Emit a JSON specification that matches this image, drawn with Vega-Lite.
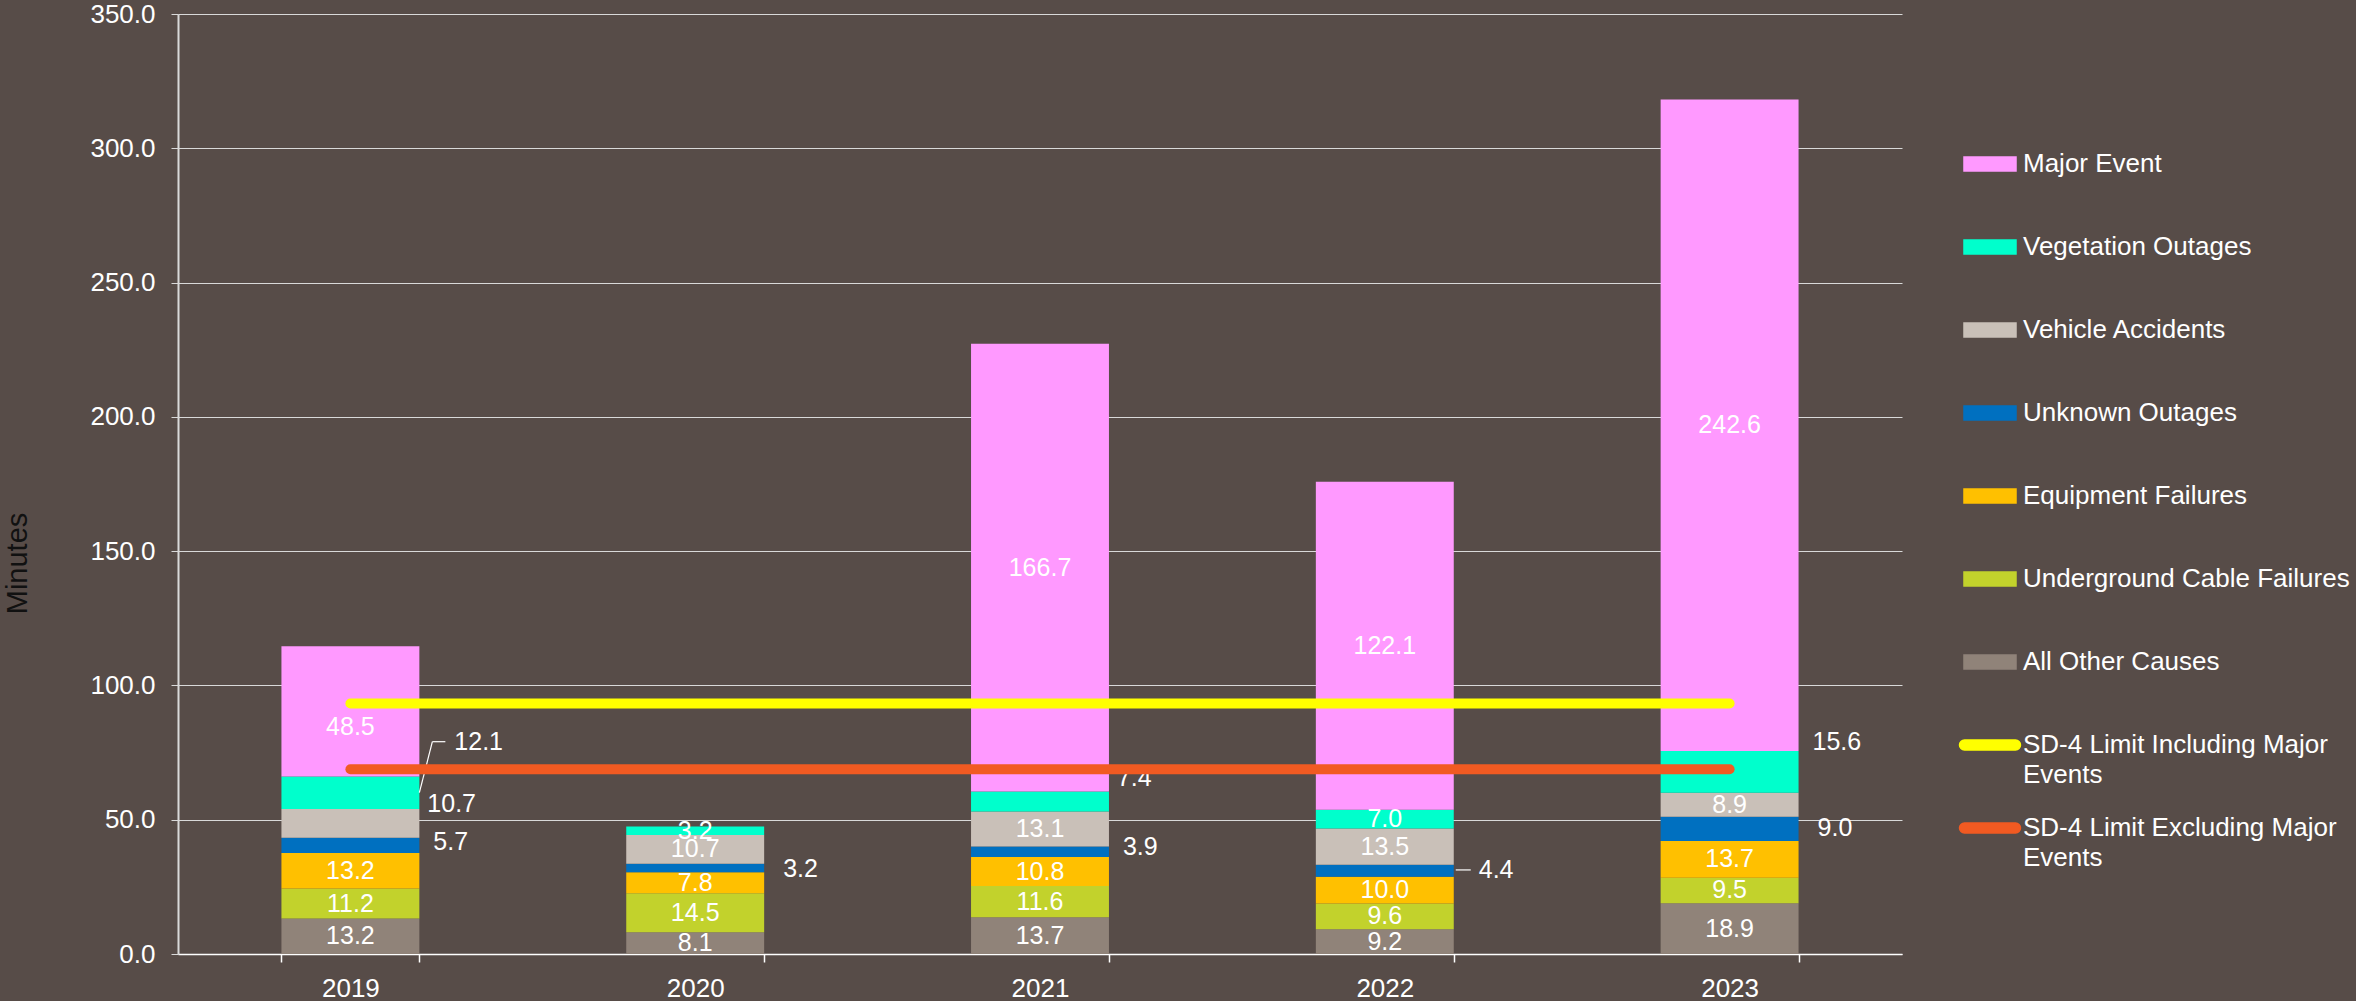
{
  "$schema": "https://vega.github.io/schema/vega-lite/v6.json",
  "width": 1724,
  "height": 940,
  "autosize": {"type": "none"},
  "padding": {"left": 178, "top": 14, "right": 454, "bottom": 47},
  "background": "#574c48",
  "config": {"view": {"stroke": null}, "font": "Liberation Sans"},
  "datasets": {
    "causes": [
      {"year": "2019", "category": "All Other Causes", "minutes": 13.2},
      {"year": "2019", "category": "Underground Cable Failures", "minutes": 11.2},
      {"year": "2019", "category": "Equipment Failures", "minutes": 13.2},
      {"year": "2019", "category": "Unknown Outages", "minutes": 5.7},
      {"year": "2019", "category": "Vehicle Accidents", "minutes": 10.7},
      {"year": "2019", "category": "Vegetation Outages", "minutes": 12.1},
      {"year": "2019", "category": "Major Event", "minutes": 48.5},
      {"year": "2020", "category": "All Other Causes", "minutes": 8.1},
      {"year": "2020", "category": "Underground Cable Failures", "minutes": 14.5},
      {"year": "2020", "category": "Equipment Failures", "minutes": 7.8},
      {"year": "2020", "category": "Unknown Outages", "minutes": 3.2},
      {"year": "2020", "category": "Vehicle Accidents", "minutes": 10.7},
      {"year": "2020", "category": "Vegetation Outages", "minutes": 3.2},
      {"year": "2021", "category": "All Other Causes", "minutes": 13.7},
      {"year": "2021", "category": "Underground Cable Failures", "minutes": 11.6},
      {"year": "2021", "category": "Equipment Failures", "minutes": 10.8},
      {"year": "2021", "category": "Unknown Outages", "minutes": 3.9},
      {"year": "2021", "category": "Vehicle Accidents", "minutes": 13.1},
      {"year": "2021", "category": "Vegetation Outages", "minutes": 7.4},
      {"year": "2021", "category": "Major Event", "minutes": 166.7},
      {"year": "2022", "category": "All Other Causes", "minutes": 9.2},
      {"year": "2022", "category": "Underground Cable Failures", "minutes": 9.6},
      {"year": "2022", "category": "Equipment Failures", "minutes": 10.0},
      {"year": "2022", "category": "Unknown Outages", "minutes": 4.4},
      {"year": "2022", "category": "Vehicle Accidents", "minutes": 13.5},
      {"year": "2022", "category": "Vegetation Outages", "minutes": 7.0},
      {"year": "2022", "category": "Major Event", "minutes": 122.1},
      {"year": "2023", "category": "All Other Causes", "minutes": 18.9},
      {"year": "2023", "category": "Underground Cable Failures", "minutes": 9.5},
      {"year": "2023", "category": "Equipment Failures", "minutes": 13.7},
      {"year": "2023", "category": "Unknown Outages", "minutes": 9.0},
      {"year": "2023", "category": "Vehicle Accidents", "minutes": 8.9},
      {"year": "2023", "category": "Vegetation Outages", "minutes": 15.6},
      {"year": "2023", "category": "Major Event", "minutes": 242.6}
    ],
    "limits": [
      {"year": "2019", "category": "SD-4 Limit Including Major Events", "minutes": 93.3},
      {"year": "2020", "category": "SD-4 Limit Including Major Events", "minutes": 93.3},
      {"year": "2021", "category": "SD-4 Limit Including Major Events", "minutes": 93.3},
      {"year": "2022", "category": "SD-4 Limit Including Major Events", "minutes": 93.3},
      {"year": "2023", "category": "SD-4 Limit Including Major Events", "minutes": 93.3},
      {"year": "2019", "category": "SD-4 Limit Excluding Major Events", "minutes": 68.8},
      {"year": "2020", "category": "SD-4 Limit Excluding Major Events", "minutes": 68.8},
      {"year": "2021", "category": "SD-4 Limit Excluding Major Events", "minutes": 68.8},
      {"year": "2022", "category": "SD-4 Limit Excluding Major Events", "minutes": 68.8},
      {"year": "2023", "category": "SD-4 Limit Excluding Major Events", "minutes": 68.8}
    ]
  },
  "layer": [
    {
      "data": {"name": "causes"},
      "transform": [
        {"calculate": "indexof(['All Other Causes','Underground Cable Failures','Equipment Failures','Unknown Outages','Vehicle Accidents','Vegetation Outages','Major Event'], datum.category)", "as": "ord"},
        {"stack": "minutes", "groupby": ["year"], "sort": [{"field": "ord", "order": "ascending"}], "as": ["y0", "y1"]},
        {"calculate": "(datum.y0 + datum.y1) / 2", "as": "mid"},
        {"calculate": "datum.year + '|' + datum.category", "as": "key"},
        {"calculate": "indexof(['2019|Vegetation Outages','2019|Vehicle Accidents','2019|Unknown Outages','2020|Unknown Outages','2021|Unknown Outages','2021|Vegetation Outages','2022|Unknown Outages','2023|Unknown Outages','2023|Vegetation Outages','2019|Major Event'], datum.key)", "as": "ki"},
        {"calculate": "datum.mid + (datum.ki >= 0 ? [19, 7.3, 1.2, -0.4, 1.9, 8.6, 0.3, 0.4, 11.2, -6][datum.ki] : 0)", "as": "ly"}
      ],
      "layer": [
        {
          "mark": {"type": "bar"},
          "encoding": {
            "x": {
              "field": "year", "type": "nominal",
              "scale": {"paddingInner": 0.6, "paddingOuter": 0.3},
              "axis": {"title": null, "labelAngle": 0, "labelFontSize": 26, "labelColor": "#ffffff", "labelPadding": 13, "tickBand": "extent", "tickSize": 8, "tickColor": "#ffffff", "tickWidth": 1.5, "domainColor": "#ffffff", "domainWidth": 1.5, "grid": false}
            },
            "y": {
              "field": "y1", "type": "quantitative",
              "scale": {"domain": [0, 350], "nice": false, "zero": true},
              "axis": {"title": "Minutes", "values": [0, 50, 100, 150, 200, 250, 300, 350], "format": ".1f", "labelFontSize": 26, "labelColor": "#ffffff", "labelPadding": 16, "tickSize": 7, "tickColor": "#d9d9d9", "tickWidth": 1, "domainColor": "#d9d9d9", "domainWidth": 2, "grid": true, "gridColor": "#d9d9d9", "gridWidth": 1, "titleFont": "Liberation Sans", "titleFontSize": 29, "titleFontWeight": "normal", "titleColor": "#111111", "titleX": -161, "titleY": 549, "titleAngle": -90, "titleAlign": "center", "titleBaseline": "middle"}
            },
            "y2": {"field": "y0"},
            "color": {
              "field": "category", "type": "nominal",
              "scale": {
                "domain": ["Major Event", "Vegetation Outages", "Vehicle Accidents", "Unknown Outages", "Equipment Failures", "Underground Cable Failures", "All Other Causes", "SD-4 Limit Including Major Events", "SD-4 Limit Excluding Major Events"],
                "range": ["#ff99ff", "#00ffcc", "#c9c0b8", "#0070c0", "#ffc000", "#c2d22c", "#908379", "#ffff00", "#f15a22"]
              },
              "legend": {
                "title": null, "orient": "none", "legendX": 1782, "legendY": 120, "direction": "vertical",
                "symbolSize": 3341, "symbolType": "M0,-0.64M0,1.70M-0.9,-0.242H0.9V0.242H-0.9Z",
                "labelFontSize": 26, "labelColor": "#ffffff", "labelFont": "Liberation Sans", "labelOffset": 3,
                "rowPadding": 0, "padding": 0, "labelLimit": 420,
                "labelExpr": "datum.label == 'SD-4 Limit Including Major Events' ? ['SD-4 Limit Including Major', 'Events'] : datum.label == 'SD-4 Limit Excluding Major Events' ? ['SD-4 Limit Excluding Major', 'Events'] : datum.label",
                "encode": {
                  "symbols": {"update": {
                    "shape": {"signal": "indexof(['SD-4 Limit Including Major Events','SD-4 Limit Excluding Major Events'], datum.value) >= 0 ? 'M0,-0.64M0,1.70M-0.882,-0.173H0.882A0.173,0.173 0 0 1 0.882,0.173H-0.882A0.173,0.173 0 0 1 -0.882,-0.173Z' : 'M0,-0.64M0,1.70M-0.9,-0.242H0.9V0.242H-0.9Z'"},
                    "fill": {"scale": "color", "field": "value"},
                    "stroke": {"value": "transparent"},
                    "opacity": {"value": 1}
                  }},
                  "labels": {"update": {
                    "lineHeight": {"value": 30}
                  }}
                }
              }
            }
          }
        },
        {
          "transform": [{"filter": "datum.ki < 0 || datum.ki == 9"}],
          "mark": {"type": "text", "fontSize": 25, "color": "#ffffff", "baseline": "middle", "align": "center"},
          "encoding": {
            "x": {"field": "year", "type": "nominal"},
            "y": {"field": "ly", "type": "quantitative"},
            "text": {"field": "minutes", "type": "quantitative", "format": ".1f"}
          }
        },
        {
          "transform": [{"filter": "datum.ki == 0"}],
          "mark": {"type": "text", "fontSize": 25, "color": "#ffffff", "baseline": "middle", "align": "left", "dx": 35},
          "encoding": {
            "x": {"field": "year", "type": "nominal", "bandPosition": 1},
            "y": {"field": "ly", "type": "quantitative"},
            "text": {"field": "minutes", "type": "quantitative", "format": ".1f"}
          }
        },
        {
          "transform": [{"filter": "datum.ki == 6"}],
          "mark": {"type": "text", "fontSize": 25, "color": "#ffffff", "baseline": "middle", "align": "left", "dx": 25},
          "encoding": {
            "x": {"field": "year", "type": "nominal", "bandPosition": 1},
            "y": {"field": "ly", "type": "quantitative"},
            "text": {"field": "minutes", "type": "quantitative", "format": ".1f"}
          }
        },
        {
          "transform": [{"filter": "datum.ki == 3 || datum.ki == 7"}],
          "mark": {"type": "text", "fontSize": 25, "color": "#ffffff", "baseline": "middle", "align": "left", "dx": 19},
          "encoding": {
            "x": {"field": "year", "type": "nominal", "bandPosition": 1},
            "y": {"field": "ly", "type": "quantitative"},
            "text": {"field": "minutes", "type": "quantitative", "format": ".1f"}
          }
        },
        {
          "transform": [{"filter": "datum.ki == 2 || datum.ki == 4 || datum.ki == 8"}],
          "mark": {"type": "text", "fontSize": 25, "color": "#ffffff", "baseline": "middle", "align": "left", "dx": 14},
          "encoding": {
            "x": {"field": "year", "type": "nominal", "bandPosition": 1},
            "y": {"field": "ly", "type": "quantitative"},
            "text": {"field": "minutes", "type": "quantitative", "format": ".1f"}
          }
        },
        {
          "transform": [{"filter": "datum.ki == 1 || datum.ki == 5"}],
          "mark": {"type": "text", "fontSize": 25, "color": "#ffffff", "baseline": "middle", "align": "left", "dx": 8},
          "encoding": {
            "x": {"field": "year", "type": "nominal", "bandPosition": 1},
            "y": {"field": "ly", "type": "quantitative"},
            "text": {"field": "minutes", "type": "quantitative", "format": ".1f"}
          }
        },
        {
          "transform": [{"filter": "datum.ki == 0"}],
          "mark": {"type": "rule", "color": "#ffffff", "strokeWidth": 1.2, "x2Offset": 13},
          "encoding": {
            "x": {"field": "year", "type": "nominal", "bandPosition": 1},
            "x2": {"field": "year", "bandPosition": 1},
            "y": {"field": "mid", "type": "quantitative"},
            "y2": {"field": "ly"}
          }
        },
        {
          "transform": [{"filter": "datum.ki == 0"}],
          "mark": {"type": "rule", "color": "#ffffff", "strokeWidth": 1.2, "xOffset": 13, "x2Offset": 26},
          "encoding": {
            "x": {"field": "year", "type": "nominal", "bandPosition": 1},
            "x2": {"field": "year", "bandPosition": 1},
            "y": {"field": "ly", "type": "quantitative"}
          }
        },
        {
          "transform": [{"filter": "datum.ki == 6"}],
          "mark": {"type": "rule", "color": "#ffffff", "strokeWidth": 1.2, "xOffset": 2, "x2Offset": 17},
          "encoding": {
            "x": {"field": "year", "type": "nominal", "bandPosition": 1},
            "x2": {"field": "year", "bandPosition": 1},
            "y": {"field": "ly", "type": "quantitative"}
          }
        }
      ]
    },
    {
      "data": {"name": "limits"},
      "mark": {"type": "line", "strokeWidth": 10, "strokeCap": "round"},
      "encoding": {
        "x": {"field": "year", "type": "nominal"},
        "y": {"field": "minutes", "type": "quantitative"},
        "color": {"field": "category", "type": "nominal"}
      }
    }
  ]
}
